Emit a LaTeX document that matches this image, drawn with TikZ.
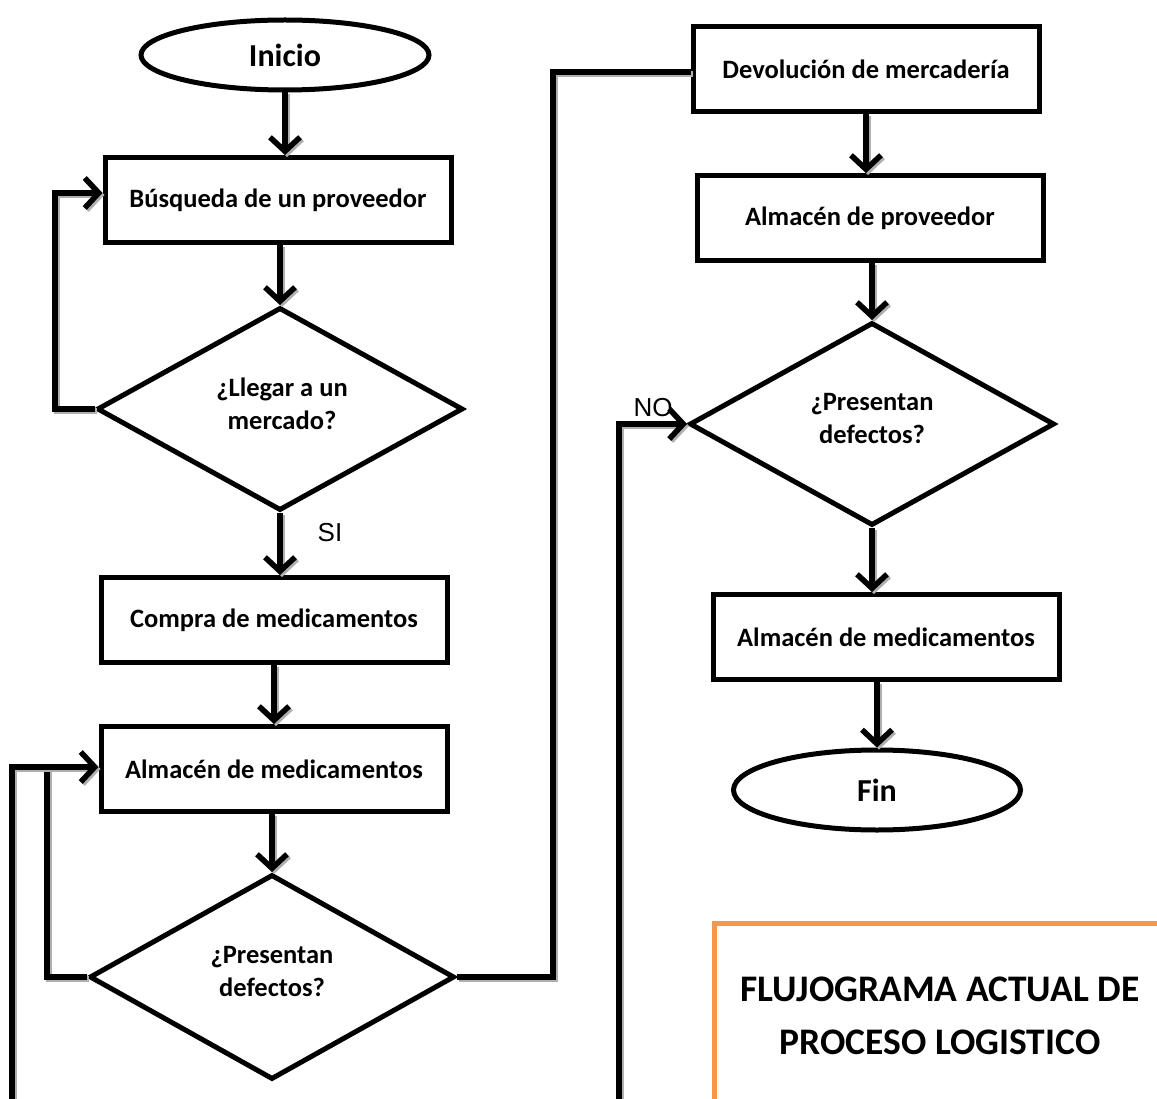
\documentclass[tikz,border=0pt]{standalone}
\usepackage{fontspec}
\setmainfont{Carlito}
\newfontfamily\labelfont{Liberation Sans}
\usetikzlibrary{arrows.meta,shapes.geometric}
\definecolor{shadowgray}{RGB}{175,175,175}
\definecolor{frameorange}{RGB}{247,150,70}
\tikzset{
  boxfont/.style={font=\bfseries\fontsize{26.5}{33}\selectfont},
  procbox/.style={draw, line width=5pt, rectangle, minimum width=346pt, minimum height=85pt,
    boxfont, inner sep=0pt},
  termnode/.style={draw, line width=5pt, ellipse, inner sep=0pt,
    font=\bfseries\fontsize{32}{36}\selectfont},
  decshape/.style={draw, line width=5pt, diamond, inner sep=0pt},
  dectext/.style={boxfont, align=center},
  link/.style={line width=5.5pt,
    preaction={draw=shadowgray, line width=5.5pt, transform canvas={shift={(2pt,-2pt)}}}},
  flow/.style={link, -{Straight Barb[length=14pt,width=30pt,line width=5.5pt]}},
  edgelabel/.style={font=\labelfont\fontsize{26}{30}\selectfont}
}
\begin{document}
\begin{tikzpicture}[x=1pt,y=-1pt]
\useasboundingbox (0,0) rectangle (1157,1099);
\clip (0,0) rectangle (1157,1099);

% left column
\node[termnode, minimum width=288pt, minimum height=70pt] (inicio) at (285,55) {Inicio};
\node[procbox] (busq) at (278,200) {Búsqueda de un proveedor};
\node[decshape, minimum width=366pt, minimum height=203pt] (llegar) at (280,409) {};
\node[dectext] (llegartxt) at (282,404) {¿Llegar a un\\mercado?};
\node[procbox] (compra) at (274,620) {Compra de medicamentos};
\node[procbox] (alm1) at (274,769) {Almacén de medicamentos};
\node[decshape, minimum width=365pt, minimum height=205pt] (pres1) at (272,977) {};
\node[dectext] (pres1txt) at (272,971) {¿Presentan\\defectos?};

% right column
\node[procbox] (devol) at (866,69) {Devolución de mercadería};
\node[procbox] (almprov) at (870,218) {Almacén de proveedor};
\node[decshape, minimum width=365pt, minimum height=203pt] (pres2) at (872,424) {};
\node[dectext] (pres2txt) at (872,419) {¿Presentan\\defectos?};
\node[procbox] (alm2) at (886,637) {Almacén de medicamentos};
\node[termnode, minimum width=287pt, minimum height=80pt] (fin) at (877,790) {Fin};

% title frame
\draw[frameorange, line width=5pt] (714,1110) -- (714,923) -- (1170,923);
\node[font=\bfseries\fontsize{37.5}{53}\selectfont, align=center] (title) at (940,1016)
  {FLUJOGRAMA ACTUAL DE\\PROCESO LOGISTICO};

% connectors, left column
\draw[flow] (inicio.south) -- (busq.north -| inicio.south);
\draw[flow] (busq.south -| llegar.north) -- (llegar.north);
\draw[flow] (llegar.west) -- (55,409) -- (55,193) -- (busq.west |- 0,193);
\draw[flow] (llegar.south) -- (compra.north -| llegar.south);
\node[edgelabel] (si) at (330,533) {SI};
\draw[flow] (compra.south) -- (alm1.north);
\draw[flow] (alm1.south -| pres1.north) -- (pres1.north);
\coordinate (retorno) at (12,1110);
\draw[link] (pres1.west) -- (47,977) -- (47,767);
\draw[flow] (retorno) -- (12,767) -- (alm1.west |- 0,767);
\draw[link] (pres1.east) -- (553,977) -- (553,72) -- (devol.west |- 0,72);

% connectors, right column
\draw[flow] (devol.south) -- (almprov.north -| devol.south);
\draw[flow] (almprov.south -| pres2.north) -- (pres2.north);
\coordinate (entrada) at (619,1110);
\node[edgelabel] (no) at (653,408) {NO};
\draw[flow] (entrada) -- (619,424) -- (pres2.west);
\draw[flow] (pres2.south) -- (alm2.north -| pres2.south);
\draw[flow] (alm2.south -| fin.north) -- (fin.north);
\end{tikzpicture}
\end{document}
